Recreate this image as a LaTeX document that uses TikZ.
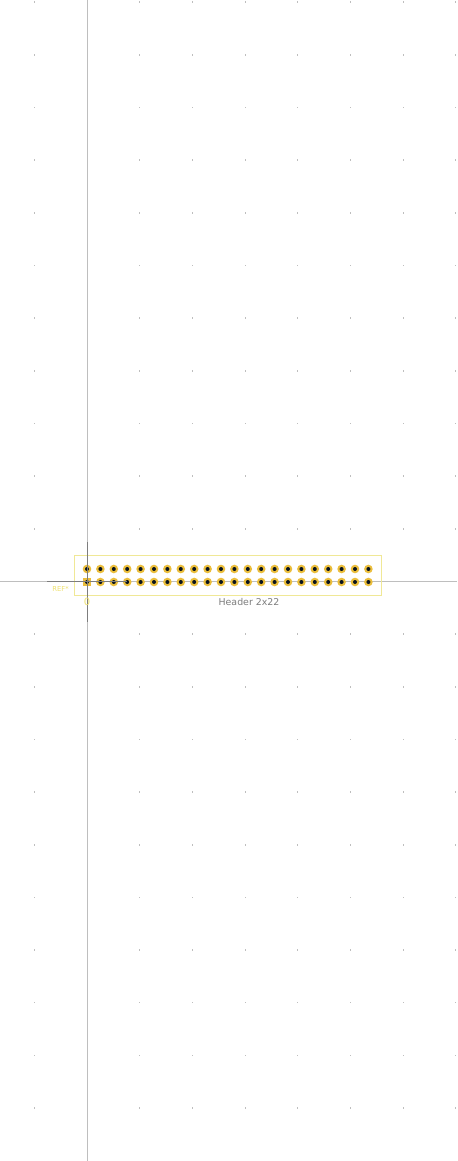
\documentclass[tikz,border=0pt]{standalone}
\usepackage{fontspec}
\setmainfont{DejaVu Sans}
\usepackage{tikz}
\definecolor{axisgray}{RGB}{190,190,190}
\definecolor{crossgray}{RGB}{125,125,125}
\definecolor{silk}{RGB}{240,232,150}
\definecolor{reftext}{RGB}{238,225,110}
\definecolor{padgold}{RGB}{235,190,60}
\definecolor{drillblack}{RGB}{10,20,30}
\definecolor{labelgray}{RGB}{125,125,125}
\tikzset{
	griddot/.style={fill=axisgray,inner sep=0pt,minimum width=.5pt,minimum height=.8pt,draw=none},
	pad/.style={circle,fill=padgold,inner sep=0pt,minimum size=4.3pt,draw=none},
	squarepad/.style={fill=padgold,inner sep=0pt,minimum size=4pt,draw=none},
	drill/.style={circle,fill=drillblack,inner sep=0pt,minimum size=2pt,draw=none}
}
\begin{document}
\begin{tikzpicture}[x=.5pt,y=-.5pt]
	\useasboundingbox[fill=white] (0,0) rectangle (457,1161);
	% grid
	\foreach \i in {0,...,8}
		\foreach \j in {0,...,21}
			\node[griddot] (g-\i-\j) at ({34.3+52.7*\i},{2.3+52.65*\j}) {};
	% axes
	\coordinate (axis-w) at (0,581.5);
	\coordinate (axis-e) at (457,581.5);
	\coordinate (axis-n) at (87,0);
	\coordinate (axis-s) at (87,1161);
	\draw[axisgray,line width=.5pt] (axis-w) -- (axis-e);
	\draw[axisgray,line width=.5pt] (axis-n) -- (axis-s);
	% outline
	\node[draw=silk,line width=.5pt,inner sep=0pt,minimum width=153.5pt,minimum height=20pt] (outline) at (227.75,575.5) {};
	% pads
	\foreach \c in {0,...,21} {
		\ifnum\c=0\relax
			\node[pad] (p-1-\c) at ({87+13.4*\c},569) {};
			\node[squarepad] (p-2-\c) at ({87+13.4*\c},582) {};
		\else
			\node[pad] (p-1-\c) at ({87+13.4*\c},569) {};
			\node[pad] (p-2-\c) at ({87+13.4*\c},582) {};
		\fi
		\node[drill] (d-1-\c) at (p-1-\c) {};
		\node[drill] (d-2-\c) at (p-2-\c) {};
	}
	% cross
	\coordinate (cross-w) at (47,581.5);
	\coordinate (cross-e) at (127,581.5);
	\coordinate (cross-n) at (87,542);
	\coordinate (cross-s) at (87,622);
	\draw[crossgray,line width=.5pt] (cross-w) -- (cross-e);
	\draw[crossgray,line width=.5pt] (cross-n) -- (cross-s);
	% labels
	\node[text=reftext,font=\fontsize{3.4}{4}\selectfont,inner sep=0pt] (ref) at (60.5,588.5) {REF*};
	\node[text=reftext,font=\fontsize{5}{5}\selectfont,inner sep=0pt] (val) at (87,601.5) {0};
	\node[text=labelgray,font=\fontsize{4.7}{5}\selectfont,inner sep=0pt] (name) at (249,601.5) {Header 2x22};
\end{tikzpicture}
\end{document}
